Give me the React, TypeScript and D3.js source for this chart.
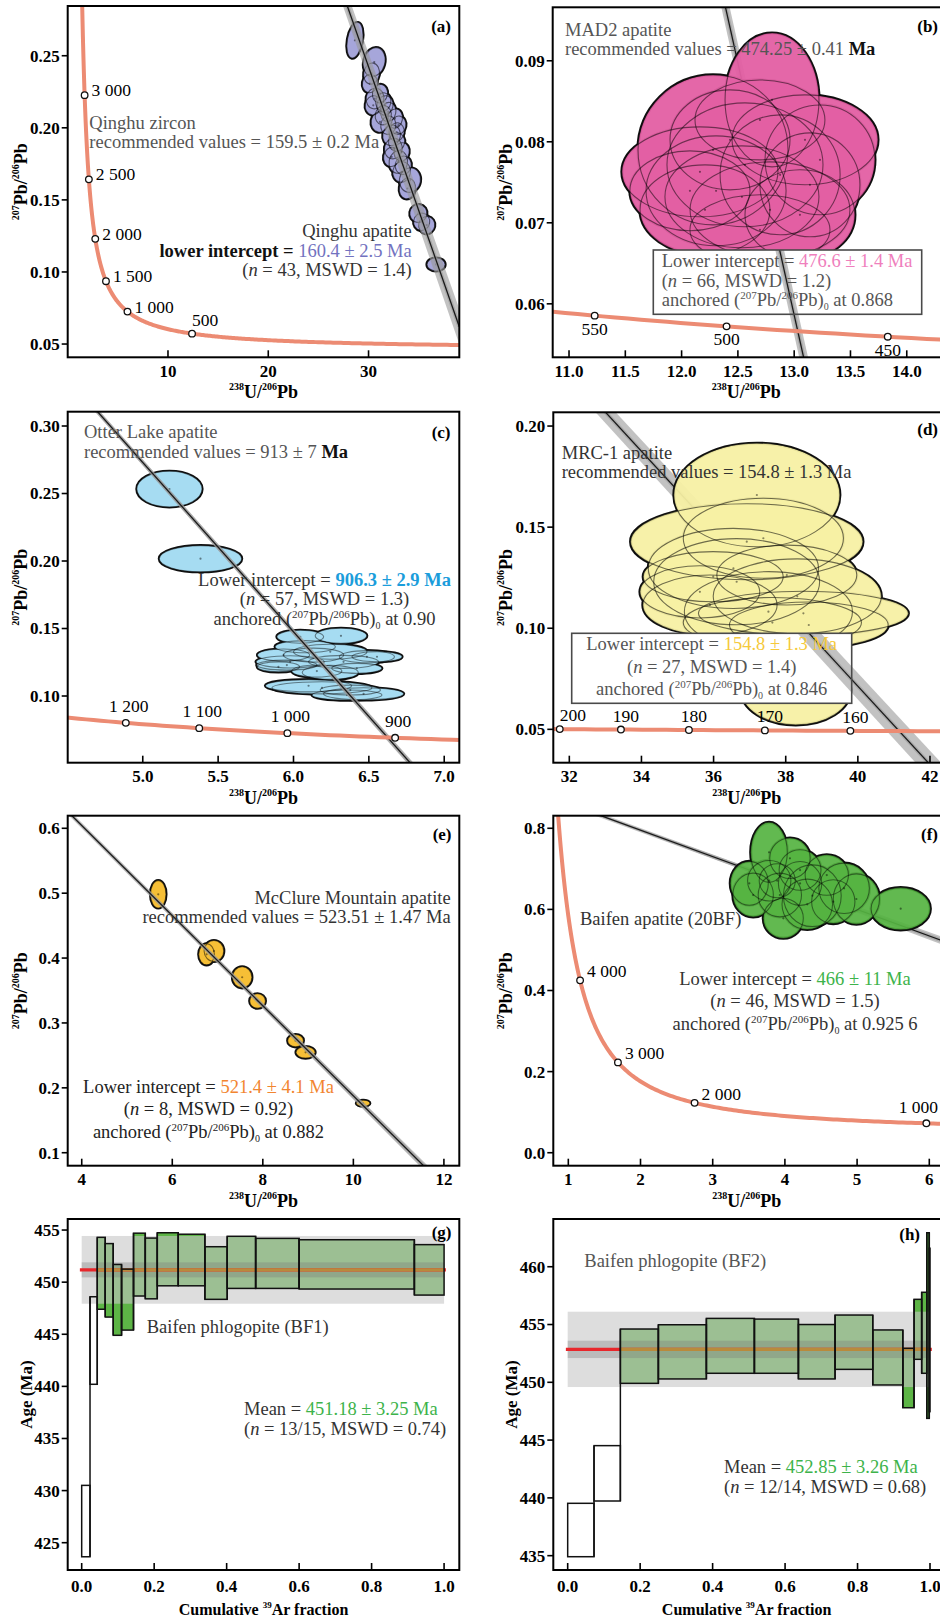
import React from "react";
import * as d3 from "d3";

const SERIF = "'Liberation Serif', 'Times New Roman', serif";

// Tera-Wasserburg concordia constants
const L238 = 1.55125e-10;
const L235 = 9.8485e-10;
const U_RATIO = 137.88;

const tw = (ageMa: number): [number, number] => {
  const e8 = Math.exp(L238 * ageMa * 1e6) - 1;
  const e5 = Math.exp(L235 * ageMa * 1e6) - 1;
  return [1 / e8, e5 / e8 / U_RATIO];
};

// sampling grid for the concordia curve (Ma)
const curveAges = d3.range(0, 601).map((i) => 20 * Math.pow(300, i / 600));

// ellipse rows: [238U/206Pb, 207Pb/206Pb, half-width x, half-width y, tilt deg]
const qinghuEllipses = [
  [28.64, 0.2607, 0.75, 0.0125, 10], [30.57, 0.2456, 1.05, 0.0102, 15],
  [30.3, 0.2376, 0.78, 0.0074, 10], [30.14, 0.2307, 0.75, 0.0064, 10],
  [30.64, 0.2203, 0.88, 0.0072, 10], [31.14, 0.2237, 0.75, 0.0064, 10],
  [30.47, 0.2156, 0.8, 0.0067, 10], [31.47, 0.2179, 0.75, 0.0064, 10],
  [31.64, 0.2156, 0.8, 0.0067, 10], [31.97, 0.211, 0.75, 0.0067, 10],
  [31.47, 0.2087, 0.8, 0.0067, 10], [31.14, 0.2041, 0.88, 0.0072, 10],
  [32.63, 0.2064, 0.75, 0.0067, 10], [31.97, 0.2018, 0.75, 0.0064, 10],
  [32.97, 0.2018, 0.75, 0.0064, 10], [32.3, 0.1948, 0.88, 0.0072, 10],
  [32.8, 0.1971, 0.75, 0.0064, 10], [32.8, 0.1902, 0.8, 0.0064, 10],
  [32.47, 0.1856, 0.88, 0.0072, 10], [33.3, 0.1833, 0.75, 0.0064, 10],
  [32.3, 0.1798, 0.8, 0.0067, 10], [32.97, 0.1763, 0.92, 0.0079, 10],
  [33.46, 0.174, 0.8, 0.0064, 10], [33.3, 0.1694, 0.88, 0.0072, 10],
  [34.13, 0.1637, 1.05, 0.0085, 10], [33.87, 0.1579, 0.8, 0.0072, 10],
  [34.97, 0.1406, 0.85, 0.0062, 10], [35.3, 0.1348, 0.8, 0.006, 10],
  [35.8, 0.1325, 0.8, 0.006, 10], [36.73, 0.1052, 0.9, 0.0045, 0],
];
const qinghuAges = [500, 1000, 1500, 2000, 2500, 3000];
const qinghuXTicks = [10, 20, 30];
const qinghuYTicks = [0.05, 0.1, 0.15, 0.2, 0.25];

const mad2Ellipses = [
  [12.803, 0.08517, 0.417, 0.00826, 0], [12.279, 0.079, 0.666, 0.00925, 0],
  [13.096, 0.08024, 0.648, 0.00555, 0], [12.696, 0.0827, 0.577, 0.00493, 0],
  [12.43, 0.08024, 0.533, 0.00617, 0], [12.163, 0.07629, 0.693, 0.00555, 0],
  [12.563, 0.07716, 0.693, 0.00764, 0], [13.229, 0.07777, 0.488, 0.00678, 0],
  [12.875, 0.07592, 0.533, 0.0074, 0], [13.14, 0.07469, 0.444, 0.00641, 0],
  [12.074, 0.07395, 0.533, 0.00493, 0], [12.306, 0.07395, 0.622, 0.00678, 0],
  [13.051, 0.07099, 0.488, 0.00555, 0], [12.208, 0.0716, 0.577, 0.00555, 0],
  [12.785, 0.0716, 0.71, 0.00592, 0], [12.696, 0.06914, 0.622, 0.00432, 0],
  [12.536, 0.07321, 0.684, 0.00629, 0],
];
const mad2Ages = [450, 500, 550];
const mad2XTicks = [11, 11.5, 12, 12.5, 13, 13.5, 14];
const mad2YTicks = [0.06, 0.07, 0.08, 0.09];

const otterEllipses = [
  [5.177, 0.2533, 0.216, 0.0132, 0], [5.383, 0.2017, 0.273, 0.00963, 0],
  [6.315, 0.1446, 0.171, 0.00556, 0], [6.045, 0.1439, 0.155, 0.0048, 0],
  [6.078, 0.1365, 0.2, 0.0045, 0], [5.934, 0.1303, 0.173, 0.0045, 0],
  [6.487, 0.1291, 0.183, 0.0045, 0], [6.554, 0.1291, 0.166, 0.0037, 0],
  [5.978, 0.1253, 0.226, 0.0045, 0], [5.956, 0.1229, 0.2, 0.0037, 0],
  [5.9, 0.1216, 0.14, 0.0037, 0], [6.332, 0.1253, 0.232, 0.0048, 0],
  [6.244, 0.1328, 0.244, 0.00556, 0], [6.133, 0.1303, 0.2, 0.0052, 0],
  [6.42, 0.1205, 0.166, 0.0037, 0], [6.155, 0.1185, 0.166, 0.0045, 0],
  [6.244, 0.1175, 0.186, 0.0052, 0], [6.1, 0.1076, 0.286, 0.0045, 0],
  [6.189, 0.1061, 0.332, 0.0045, 0], [6.377, 0.1044, 0.2, 0.0037, 0],
  [6.355, 0.1007, 0.232, 0.0037, 0], [6.465, 0.1016, 0.266, 0.0045, 0],
];
const otterAges = [900, 1000, 1100, 1200];
const otterXTicks = [5, 5.5, 6, 6.5, 7];
const otterYTicks = [0.1, 0.15, 0.2, 0.25, 0.3];

const mrcEllipses = [
  [36.92, 0.1428, 3.22, 0.0188, 0], [37.38, 0.1445, 2.22, 0.0198, 0],
  [36.55, 0.1296, 2.36, 0.0198, 0], [35.99, 0.1255, 1.94, 0.0124, 0],
  [36.64, 0.123, 2.3, 0.0213, 0], [35.62, 0.118, 1.66, 0.0129, 0],
  [38.03, 0.1263, 1.94, 0.0148, 0], [37.2, 0.1659, 2.3, 0.0256, 0],
  [35.9, 0.1115, 1.86, 0.0148, 0], [38.49, 0.1074, 2.91, 0.0109, 0],
  [38.28, 0.0695, 1.52, 0.0173, 0], [37.52, 0.1082, 2.33, 0.0198, 0],
  [38.32, 0.1158, 2.33, 0.0185, 0], [37.63, 0.1028, 2.47, 0.0124, 0],
  [38.64, 0.1016, 2.2, 0.0114, 0],
];
const mrcAges = [160, 170, 180, 190, 200];
const mrcXTicks = [32, 34, 36, 38, 40, 42];
const mrcYTicks = [0.05, 0.1, 0.15, 0.2];

const mcclureEllipses = [
  [5.69, 0.4983, 0.17, 0.0211, 0], [6.92, 0.4109, 0.217, 0.0162, 0],
  [6.758, 0.4058, 0.173, 0.0162, 0], [7.544, 0.3704, 0.214, 0.0162, 0],
  [7.884, 0.3339, 0.173, 0.0111, 0], [8.723, 0.2727, 0.173, 0.0095, 0],
  [8.944, 0.2547, 0.21, 0.0089, 0], [10.215, 0.1762, 0.148, 0.0046, 0],
];
const mcclureXTicks = [4, 6, 8, 10, 12];
const mcclureYTicks = [0.1, 0.2, 0.3, 0.4, 0.5, 0.6];

const baifenEllipses = [
  [3.78, 0.7407, 0.253, 0.074, 0], [4.07, 0.726, 0.28, 0.05, 0],
  [4.21, 0.697, 0.29, 0.05, 0], [4.58, 0.6847, 0.3, 0.05, 0],
  [3.507, 0.6643, 0.263, 0.054, 0], [3.56, 0.6355, 0.28, 0.054, 0],
  [3.93, 0.6355, 0.3, 0.054, 0], [3.978, 0.578, 0.277, 0.049, 0],
  [3.783, 0.6707, 0.3, 0.05, 0], [3.894, 0.6707, 0.25, 0.042, 0],
  [4.21, 0.664, 0.3, 0.054, 0], [4.67, 0.619, 0.3, 0.054, 0],
  [4.82, 0.652, 0.35, 0.062, 0], [4.99, 0.6256, 0.32, 0.062, 0],
  [4.31, 0.6125, 0.35, 0.062, 0], [4.38, 0.6337, 0.4, 0.076, 0],
  [5.604, 0.6017, 0.41, 0.052, 0],
];
const baifenAges = [1000, 2000, 3000, 4000];
const baifenXTicks = [1, 2, 3, 4, 5, 6];
const baifenYTicks = [0, 0.2, 0.4, 0.6, 0.8];

// Ar-Ar age spectra
const bf1Frac = [0, 0.023, 0.043, 0.065, 0.087, 0.11, 0.143, 0.1755, 0.2086, 0.2665, 0.34, 0.4016, 0.48, 0.6, 0.918, 1.0];
const bf1AgeLow = [423.65, 440.2, 447.4, 446.65, 444.9, 445.4, 448.67, 448.4, 449.65, 449.65, 448.35, 449.4, 449.4, 449.34, 448.76];
const bf1AgeHigh = [430.5, 448.6, 454.3, 453.7, 451.7, 451.25, 454.7, 454.23, 454.74, 454.6, 453.4, 454.4, 454.2, 454.07, 453.6];
const bf1Included = [false, false, true, true, true, true, true, true, true, true, true, true, true, true, true];
const bf1Mean = 451.18;
const bf1Err = 3.25;
const bf1InnerErr = 0.72;
const bf1YTicks = [425, 430, 435, 440, 445, 450, 455];

const bf2Frac = [0, 0.0727, 0.1454, 0.2503, 0.3828, 0.5153, 0.6368, 0.738, 0.842, 0.925, 0.956, 0.977, 0.991, 0.998, 1.0];
const bf2AgeLow = [434.91, 439.73, 449.91, 450.29, 450.78, 450.78, 450.29, 451.12, 449.77, 447.8, 451.99, 450.78, 446.88, 447.46];
const bf2AgeHigh = [439.53, 444.52, 454.61, 454.98, 455.53, 455.47, 455.0, 455.82, 454.53, 452.94, 457.18, 457.79, 462.94, 461.6];
const bf2Included = [false, false, true, true, true, true, true, true, true, true, true, true, true, true];
const bf2Mean = 452.85;
const bf2Err = 3.26;
const bf2InnerErr = 0.75;
const bf2YTicks = [435, 440, 445, 450, 455, 460];

const fracTicks = [0, 0.2, 0.4, 0.6, 0.8, 1.0];

const fmtAge = (a: number) =>
  a >= 1000 ? `${Math.floor(a / 1000)} ${String(a % 1000).padStart(3, "0")}` : `${a}`;

const panels: any[] = [
  {
    id: "a", left: 67.7, right: 459.3, top: 6, bottom: 357.3,
    xDomain: [0, 39.05], yDomain: [0.0408, 0.2845],
    xTicks: qinghuXTicks, yTicks: qinghuYTicks, xFmt: d3.format("d"), yFmt: d3.format(".2f"),
    ellipses: qinghuEllipses, fill: "#a6a6da", fillOpacity: 1, lineOnTop: true, innerStroke: 0.55,
    anchor: 0.84, age: 160.4, ageErr: 2.5, ages: qinghuAges,
    labelAnchor: "start", labelDx: 7, labelDy: 1, tag: "(a)", tagX: 451, tagY: 31.7,
  },
  {
    id: "b", left: 552.7, right: 942, top: 7.3, bottom: 357.3,
    xDomain: [10.855, 14.313], yDomain: [0.0534, 0.0966],
    xTicks: mad2XTicks, yTicks: mad2YTicks, xFmt: d3.format(".1f"), yFmt: d3.format(".2f"),
    ellipses: mad2Ellipses, fill: "#e35fa3", fillOpacity: 0.95, lineOnTop: false, innerStroke: 0.5,
    anchor: 0.868, age: 476.6, ageErr: 1.4, ages: mad2Ages,
    box: [653.3, 250, 268.4, 64.3],
    labelAnchor: "middle", labelDx: 0, labelDy: 19, tag: "(b)", tagX: 938, tagY: 31.7,
  },
  {
    id: "c", left: 67.7, right: 459.3, top: 411.7, bottom: 762.7,
    xDomain: [4.502, 7.1], yDomain: [0.0506, 0.3106],
    xTicks: otterXTicks, yTicks: otterYTicks, xFmt: d3.format(".1f"), yFmt: d3.format(".2f"),
    ellipses: otterEllipses, fill: "#a6dcf2", fillOpacity: 1, lineOnTop: true, innerStroke: 0.45,
    anchor: 0.9, age: 906.3, ageErr: 2.9, ages: otterAges,
    labelAnchor: "middle", labelDx: 3, labelDy: -11, tag: "(c)", tagX: 450.5, tagY: 438.3,
  },
  {
    id: "d", left: 553.3, right: 942, top: 412.3, bottom: 762.7,
    xDomain: [31.556, 42.333], yDomain: [0.0335, 0.2068],
    xTicks: mrcXTicks, yTicks: mrcYTicks, xFmt: d3.format("d"), yFmt: d3.format(".2f"),
    ellipses: mrcEllipses, fill: "#f6f0a4", fillOpacity: 0.94, lineOnTop: false, innerStroke: 0.55,
    anchor: 0.846, age: 154.8, ageErr: 1.3, ages: mrcAges,
    box: [571.7, 633.3, 280, 70],
    labelAnchor: "middle", labelDx: 5, labelDy: -8, tag: "(d)", tagX: 938, tagY: 435,
  },
  {
    id: "e", left: 67.7, right: 459.3, top: 815.7, bottom: 1165.7,
    xDomain: [3.69, 12.34], yDomain: [0.08, 0.6194],
    xTicks: mcclureXTicks, yTicks: mcclureYTicks, xFmt: d3.format("d"), yFmt: d3.format(".1f"),
    ellipses: mcclureEllipses, fill: "#f6bf36", fillOpacity: 1, lineOnTop: true, innerStroke: 0.5,
    anchor: 0.882, age: 521.4, ageErr: 4.1, ages: [],
    labelAnchor: "start", labelDx: 7, labelDy: 0, tag: "(e)", tagX: 451.5, tagY: 840,
  },
  {
    id: "f", left: 553.3, right: 942, top: 815.7, bottom: 1165.7,
    xDomain: [0.792, 6.176], yDomain: [-0.032, 0.831],
    xTicks: baifenXTicks, yTicks: baifenYTicks, xFmt: d3.format("d"), yFmt: d3.format(".1f"),
    ellipses: baifenEllipses, fill: "#55b341", fillOpacity: 0.92, lineOnTop: false, innerStroke: 0.45,
    anchor: 0.9256, age: 466, ageErr: 11, ages: baifenAges,
    labelAnchor: "start", labelDx: 7, labelDy: -3, tag: "(f)", tagX: 938, tagY: 840,
  },
];

const spectra: any[] = [
  {
    id: "g", left: 67.7, right: 459.3, top: 1219, bottom: 1570,
    xDomain: [-0.0386, 1.042], yDomain: [422.38, 456.06], yTicks: bf1YTicks,
    frac: bf1Frac, lo: bf1AgeLow, hi: bf1AgeHigh, inc: bf1Included,
    mean: bf1Mean, err: bf1Err, inner: bf1InnerErr, tag: "(g)", tagX: 451.5, tagY: 1238.3,
  },
  {
    id: "h", left: 553.3, right: 942, top: 1219, bottom: 1570,
    xDomain: [-0.0397, 1.0331], yDomain: [433.76, 464.13], yTicks: bf2YTicks,
    frac: bf2Frac, lo: bf2AgeLow, hi: bf2AgeHigh, inc: bf2Included,
    mean: bf2Mean, err: bf2Err, inner: bf2InnerErr, tag: "(h)", tagX: 920, tagY: 1240,
  },
];

function Frame({ p, x, y, xFmt, yFmt, xTicks, labelOff }: any) {
  return (
    <g>
      {p.yTicks.map((t: number) => (
        <g key={`y${t}`}>
          <line x1={p.left - 6} x2={p.left} y1={y(t)} y2={y(t)} stroke="#000" strokeWidth={1.6} />
          <text x={p.left - 8} y={y(t)} dy="0.35em" textAnchor="end" fontSize={17} fontWeight="bold">
            {yFmt(t)}
          </text>
        </g>
      ))}
      {xTicks.map((t: number) => (
        <g key={`x${t}`}>
          <line x1={x(t)} x2={x(t)} y1={p.bottom} y2={p.bottom - 7} stroke="#000" strokeWidth={1.6} />
          <text x={x(t)} y={p.bottom + labelOff} textAnchor="middle" fontSize={17} fontWeight="bold">
            {xFmt(t)}
          </text>
        </g>
      ))}
      <rect x={p.left} y={p.top} width={p.right - p.left} height={p.bottom - p.top}
        fill="none" stroke="#000" strokeWidth={2} />
      <text x={p.tagX} y={p.tagY} textAnchor="end" fontSize={17} fontWeight="bold">{p.tag}</text>
    </g>
  );
}

function Isochron({ p }: { p: any }) {
  const x = d3.scaleLinear().domain(p.xDomain).range([p.left, p.right]);
  const y = d3.scaleLinear().domain(p.yDomain).range([p.bottom, p.top]);
  const clip = `clip-${p.id}`;
  const boxClip = `box-${p.id}`;

  const disc = (age: number) => {
    const [xc, yc] = tw(age);
    return (u: number) => p.anchor + ((yc - p.anchor) * u) / xc;
  };
  const [u0, u1] = p.xDomain;
  const d0 = disc(p.age), dLo = disc(p.age - p.ageErr), dHi = disc(p.age + p.ageErr);
  const band = [[u0, dLo(u0)], [u1, dLo(u1)], [u1, dHi(u1)], [u0, dHi(u0)]]
    .map(([a, b]) => `${x(a)},${y(b)}`).join(" ");
  const discordia = (
    <g>
      <polygon points={band} fill="#9a9a9a" fillOpacity={0.6} />
      <line x1={x(u0)} y1={y(d0(u0))} x2={x(u1)} y2={y(d0(u1))} stroke="#999" strokeOpacity={0.6} strokeWidth={4} />
      <line x1={x(u0)} y1={y(d0(u0))} x2={x(u1)} y2={y(d0(u1))} stroke="#1a1a1a" strokeWidth={1.3} />
    </g>
  );

  const ells = p.ellipses.map(([u, v, su, sv, rot]: number[]) => {
    const cx = x(u), cy = y(v);
    return { cx, cy, rx: x(u + su) - cx, ry: cy - y(v + sv), rot };
  });
  const tr = (e: any) => `rotate(${e.rot},${e.cx},${e.cy})`;

  const curve = d3.line<number>().x((a) => x(tw(a)[0])).y((a) => y(tw(a)[1]));

  return (
    <g>
      <defs>
        <clipPath id={clip}>
          <rect x={p.left} y={p.top} width={p.right - p.left} height={p.bottom - p.top} />
        </clipPath>
        {p.box && (
          <clipPath id={boxClip}>
            <rect x={p.box[0]} y={p.box[1]} width={p.box[2]} height={p.box[3]} />
          </clipPath>
        )}
      </defs>
      <g clipPath={`url(#${clip})`}>
        {!p.lineOnTop && discordia}
        <g>
          {ells.map((e: any, i: number) => (
            <ellipse key={i} cx={e.cx} cy={e.cy} rx={e.rx} ry={e.ry} transform={tr(e)}
              fill="none" stroke="#111" strokeWidth={3.2} />
          ))}
        </g>
        <g>
          {ells.map((e: any, i: number) => (
            <ellipse key={i} cx={e.cx} cy={e.cy} rx={e.rx} ry={e.ry} transform={tr(e)}
              fill={p.fill} fillOpacity={p.fillOpacity} />
          ))}
        </g>
        <g>
          {ells.map((e: any, i: number) => (
            <ellipse key={i} cx={e.cx} cy={e.cy} rx={e.rx} ry={e.ry} transform={tr(e)}
              fill="none" stroke="#000" strokeOpacity={p.innerStroke} strokeWidth={1.1} />
          ))}
        </g>
        <g>
          {ells.map((e: any, i: number) => (
            <circle key={i} cx={e.cx} cy={e.cy} r={1.1} fill="#000" fillOpacity={0.45} />
          ))}
        </g>
        {p.lineOnTop && discordia}
        {p.ages.length > 0 && (
          <path d={curve(curveAges) || ""} fill="none" stroke="#ec8b73" strokeWidth={4} />
        )}
        {p.ages.map((a: number) => {
          const [u, v] = tw(a);
          return <circle key={a} cx={x(u)} cy={y(v)} r={3.3} fill="#fff" stroke="#111" strokeWidth={1.3} />;
        })}
        {p.box && (
          <g>
            <rect x={p.box[0]} y={p.box[1]} width={p.box[2]} height={p.box[3]} fill="#fff" />
            <g clipPath={`url(#${boxClip})`}>{discordia}</g>
            <rect x={p.box[0]} y={p.box[1]} width={p.box[2]} height={p.box[3]}
              fill="none" stroke="#4a4a4a" strokeWidth={1.6} />
          </g>
        )}
      </g>
      {p.ages.map((a: number) => {
        const [u, v] = tw(a);
        const px = x(u), py = y(v);
        let anchor = p.labelAnchor;
        let lx = px + p.labelDx;
        let ly = py + p.labelDy;
        if (anchor === "start" && px + 40 > p.right) {
          anchor = "end"; lx = p.right - 4; ly = py - 10;
        }
        if (anchor === "start" && py > p.bottom - 40 && px < p.right - 40) {
          // flat part of the curve: lift the label above the marker
          lx = px; ly = py - 8;
        }
        if (anchor === "middle" && lx - 15 < p.left) {
          anchor = "start"; lx = px;
        }
        return (
          <text key={a} x={lx} y={ly} textAnchor={anchor} fontSize={17.5} fill="#000">
            {fmtAge(a)}
          </text>
        );
      })}
      <Frame p={p} x={x} y={y} xFmt={p.xFmt} yFmt={p.yFmt} xTicks={p.xTicks} labelOff={19.5} />
      <text x={(p.left + Math.min(p.right, 940)) / 2} y={p.bottom + 41} textAnchor="middle" fontSize={18} fontWeight="bold">
        <tspan fontSize={10} dy={-8}>238</tspan>
        <tspan dy={8}>U/</tspan>
        <tspan fontSize={10} dy={-8}>206</tspan>
        <tspan dy={8}>Pb</tspan>
      </text>
      <text transform={`translate(${p.left - 41},${(p.top + p.bottom) / 2}) rotate(-90)`}
        textAnchor="middle" fontSize={18} fontWeight="bold">
        <tspan fontSize={10} dy={-8}>207</tspan>
        <tspan dy={8}>Pb/</tspan>
        <tspan fontSize={10} dy={-8}>206</tspan>
        <tspan dy={8}>Pb</tspan>
      </text>
    </g>
  );
}

function Spectrum({ p }: { p: any }) {
  const x = d3.scaleLinear().domain(p.xDomain).range([p.left, p.right]);
  const y = d3.scaleLinear().domain(p.yDomain).range([p.bottom, p.top]);
  const steps = p.lo.map((lo: number, i: number) => ({
    x0: p.frac[i], x1: p.frac[i + 1], lo, hi: p.hi[i], inc: p.inc[i],
  }));
  const incSteps = steps.filter((s: any) => s.inc);
  const incX0 = d3.min(incSteps, (s: any) => s.x0 as number) as number;
  const incX1 = d3.max(incSteps, (s: any) => s.x1 as number) as number;
  const rectOf = (s: any) => ({
    x: x(s.x0), y: y(s.hi), width: x(s.x1) - x(s.x0), height: y(s.lo) - y(s.hi),
  });
  // vertical risers joining neighbouring steps
  const risers = steps.slice(0, -1).map((s: any, i: number) => {
    const n = steps[i + 1];
    return { xv: s.x1, lo: Math.min(s.lo, n.lo), hi: Math.max(s.hi, n.hi) };
  });
  return (
    <g>
      {steps.map((s: any, i: number) => (
        <rect key={`f${i}`} {...rectOf(s)} fill={s.inc ? "#5db546" : "#fff"} />
      ))}
      <rect x={x(0)} y={y(p.mean + p.err)} width={x(1) - x(0)} height={y(p.mean - p.err) - y(p.mean + p.err)}
        fill="#c6c6c6" fillOpacity={0.6} />
      <rect x={x(0)} y={y(p.mean + p.inner)} width={x(1) - x(0)} height={y(p.mean - p.inner) - y(p.mean + p.inner)}
        fill="#7a7a7a" fillOpacity={0.35} />
      <line x1={x(-0.005)} x2={x(1.005)} y1={y(p.mean)} y2={y(p.mean)} stroke="#e8262b" strokeWidth={3.4} />
      <line x1={x(incX0)} x2={x(incX1)} y1={y(p.mean)} y2={y(p.mean)} stroke="#b98a3c" strokeWidth={3.4} />
      {steps.map((s: any, i: number) => (
        <rect key={`o${i}`} {...rectOf(s)} fill="none" stroke="#111" strokeWidth={1.5} />
      ))}
      {risers.map((r: any, i: number) => (
        <line key={`r${i}`} x1={x(r.xv)} x2={x(r.xv)} y1={y(r.lo)} y2={y(r.hi)} stroke="#111" strokeWidth={1.5} />
      ))}
      <Frame p={p} x={x} y={y} xFmt={d3.format(".1f")} yFmt={d3.format("d")} xTicks={fracTicks} labelOff={22} />
      <text x={(p.left + Math.min(p.right, 940)) / 2} y={p.bottom + 45} textAnchor="middle" fontSize={16} fontWeight="bold">
        <tspan>{"Cumulative "}</tspan>
        <tspan fontSize={9} dy={-7}>39</tspan>
        <tspan dy={7}>{"Ar fraction"}</tspan>
      </text>
      <text transform={`translate(${p.left - 36},${(p.top + p.bottom) / 2}) rotate(-90)`}
        textAnchor="middle" fontSize={17} fontWeight="bold">
        Age (Ma)
      </text>
    </g>
  );
}

function Anchored({ v }: { v: string }) {
  return (
    <>
      <tspan>{"anchored ("}</tspan>
      <tspan fontSize={11} dy={-7}>207</tspan>
      <tspan dy={7}>{"Pb/"}</tspan>
      <tspan fontSize={11} dy={-7}>206</tspan>
      <tspan dy={7}>{"Pb)"}</tspan>
      <tspan fontSize={10} dy={4}>0</tspan>
      <tspan dy={-4}>{` at ${v}`}</tspan>
    </>
  );
}

const Nn = ({ rest }: { rest: string }) => (
  <>
    <tspan>(</tspan>
    <tspan fontStyle="italic">n</tspan>
    <tspan>{rest}</tspan>
  </>
);

export default function App() {
  const fs = 18.5;
  const gray = "#555";
  const dark = "#333";
  return (
    <div style={{ position: "absolute", left: 0, top: 0 }}>
      <svg width={940} height={1621} style={{ display: "block", fontFamily: SERIF }}>
        <rect width={940} height={1621} fill="#fff" />
        {panels.map((p) => <Isochron key={p.id} p={p} />)}
        {spectra.map((p) => <Spectrum key={p.id} p={p} />)}

        <g fontSize={fs}>
          {/* (a) */}
          <text x={89.3} y={129} fill={gray}>Qinghu zircon</text>
          <text x={89.3} y={147.7} fill={gray}>recommended values = 159.5 ± 0.2 Ma</text>
          <text x={411.7} y={237.3} textAnchor="end" fill={dark}>Qinghu apatite</text>
          <text x={411.7} y={256.7} textAnchor="end">
            <tspan fontWeight="bold" fill="#111">{"lower intercept = "}</tspan>
            <tspan fill="#7272c0">160.4 ± 2.5 Ma</tspan>
          </text>
          <text x={411.7} y={276} textAnchor="end" fill={dark}><Nn rest=" = 43, MSWD = 1.4)" /></text>

          {/* (b) */}
          <text x={565} y={36} fill={gray}>MAD2 apatite</text>
          <text x={565} y={55} fill={gray}>
            <tspan>{"recommended values = 474.25 ± 0.41 "}</tspan>
            <tspan fontWeight="bold" fill="#111">Ma</tspan>
          </text>
          <text x={661.7} y={267.3} fill={gray}>
            <tspan>{"Lower intercept = "}</tspan>
            <tspan fill="#ef7fbd">476.6 ± 1.4 Ma</tspan>
          </text>
          <text x={661.7} y={286.7} fill={gray}><Nn rest=" = 66, MSWD = 1.2)" /></text>
          <text x={661.7} y={305.7} fill={gray}><Anchored v="0.868" /></text>

          {/* (c) */}
          <text x={84} y={438.3} fill={gray}>Otter Lake apatite</text>
          <text x={84} y={457.7} fill={gray}>
            <tspan>{"recommended values = 913 ± 7 "}</tspan>
            <tspan fontWeight="bold" fill="#111">Ma</tspan>
          </text>
          <text x={324.5} y={585.7} textAnchor="middle" fill={dark}>
            <tspan>{"Lower intercept = "}</tspan>
            <tspan fill="#1b9ddb" fontWeight="bold">906.3 ± 2.9 Ma</tspan>
          </text>
          <text x={324.5} y={605} textAnchor="middle" fill={dark}><Nn rest=" = 57, MSWD = 1.3)" /></text>
          <text x={324.5} y={625} textAnchor="middle" fill={dark}><Anchored v="0.90" /></text>

          {/* (d) */}
          <text x={561.7} y={459} fill={dark}>MRC-1 apatite</text>
          <text x={561.7} y={477.7} fill={dark}>recommended values = 154.8 ± 1.3 Ma</text>
          <text x={711.7} y={650} textAnchor="middle" fill={gray}>
            <tspan>{"Lower intercept = "}</tspan>
            <tspan fill="#f5c93a">154.8 ± 1.3 Ma</tspan>
          </text>
          <text x={711.7} y={672.7} textAnchor="middle" fill={gray}><Nn rest=" = 27, MSWD = 1.4)" /></text>
          <text x={711.7} y={695} textAnchor="middle" fill={gray}><Anchored v="0.846" /></text>

          {/* (e) */}
          <text x={450.7} y={904.3} textAnchor="end" fill={dark}>McClure Mountain apatite</text>
          <text x={450.7} y={923.3} textAnchor="end" fill={dark}>recommended values = 523.51 ± 1.47 Ma</text>
          <text x={208.5} y={1092.7} textAnchor="middle" fill="#222">
            <tspan>{"Lower intercept = "}</tspan>
            <tspan fill="#f28530">521.4 ± 4.1 Ma</tspan>
          </text>
          <text x={208.5} y={1115} textAnchor="middle" fill="#222"><Nn rest=" = 8, MSWD = 0.92)" /></text>
          <text x={208.5} y={1138.3} textAnchor="middle" fill="#222"><Anchored v="0.882" /></text>

          {/* (f) */}
          <text x={580} y={925} fill={dark}>Baifen apatite (20BF)</text>
          <text x={795} y={985} textAnchor="middle" fill={dark}>
            <tspan>{"Lower intercept = "}</tspan>
            <tspan fill="#3db34a">466 ± 11 Ma</tspan>
          </text>
          <text x={795} y={1006.7} textAnchor="middle" fill={dark}><Nn rest=" = 46, MSWD = 1.5)" /></text>
          <text x={795} y={1030} textAnchor="middle" fill={dark}><Anchored v="0.925 6" /></text>

          {/* (g) */}
          <text x={146.7} y={1333.3} fill={dark}>Baifen phlogopite (BF1)</text>
          <text x={244} y={1415} fill={dark}>
            <tspan>{"Mean = "}</tspan>
            <tspan fill="#3db34a">451.18 ± 3.25 Ma</tspan>
          </text>
          <text x={244} y={1435} fill={dark}><Nn rest=" = 13/15, MSWD = 0.74)" /></text>

          {/* (h) */}
          <text x={584.3} y={1266.7} fill={gray}>Baifen phlogopite (BF2)</text>
          <text x={724} y={1473.3} fill={dark}>
            <tspan>{"Mean = "}</tspan>
            <tspan fill="#3db34a">452.85 ± 3.26 Ma</tspan>
          </text>
          <text x={724} y={1493.3} fill={dark}><Nn rest=" = 12/14, MSWD = 0.68)" /></text>
        </g>
      </svg>
    </div>
  );
}
